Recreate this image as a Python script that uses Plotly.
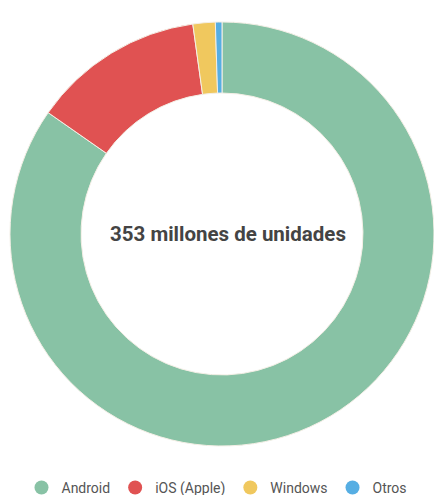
import plotly.graph_objects as go

labels = ["Android", "iOS (Apple)", "Windows", "Otros"]
values = [84.7, 13.1, 1.7, 0.5]
colors = ["#88C2A5", "#E05252", "#F0C85E", "#56AEE3"]
center_text = "353 millones de unidades"

W, H = 434, 495

fig = go.Figure()
fig.add_trace(go.Pie(
    labels=labels, values=values, sort=False, direction="clockwise", rotation=0,
    hole=0.665, textinfo="none", hoverinfo="label+percent",
    marker=dict(colors=colors, line=dict(color="#f4efe6", width=1)),
    domain=dict(x=[10 / W, 1.0], y=[46 / H, 476 / H]),
    showlegend=False,
))
for lab, col in zip(labels, colors):
    fig.add_trace(go.Scatter(
        x=[None], y=[None], mode="markers", name=lab,
        marker=dict(color=col, size=14, symbol="circle"),
    ))

fig.add_annotation(
    text="<b>" + center_text + "</b>", x=228 / W, y=1 - 234 / H,
    xref="paper", yref="paper", showarrow=False,
    font=dict(family="Roboto", size=20.5, color="#444444"),
)

fig.update_layout(
    width=W, height=H, margin=dict(l=0, r=0, t=0, b=0, autoexpand=False),
    paper_bgcolor="white", plot_bgcolor="white",
    font=dict(family="Roboto", size=14, color="#555555"),
    xaxis=dict(visible=False), yaxis=dict(visible=False),
    legend=dict(orientation="h", x=0.5, xanchor="center", y=-0.018, yanchor="bottom",
                font=dict(family="Roboto", size=14, color="#555555"),
                itemsizing="trace"),
)
fig.write_html("out.html")
